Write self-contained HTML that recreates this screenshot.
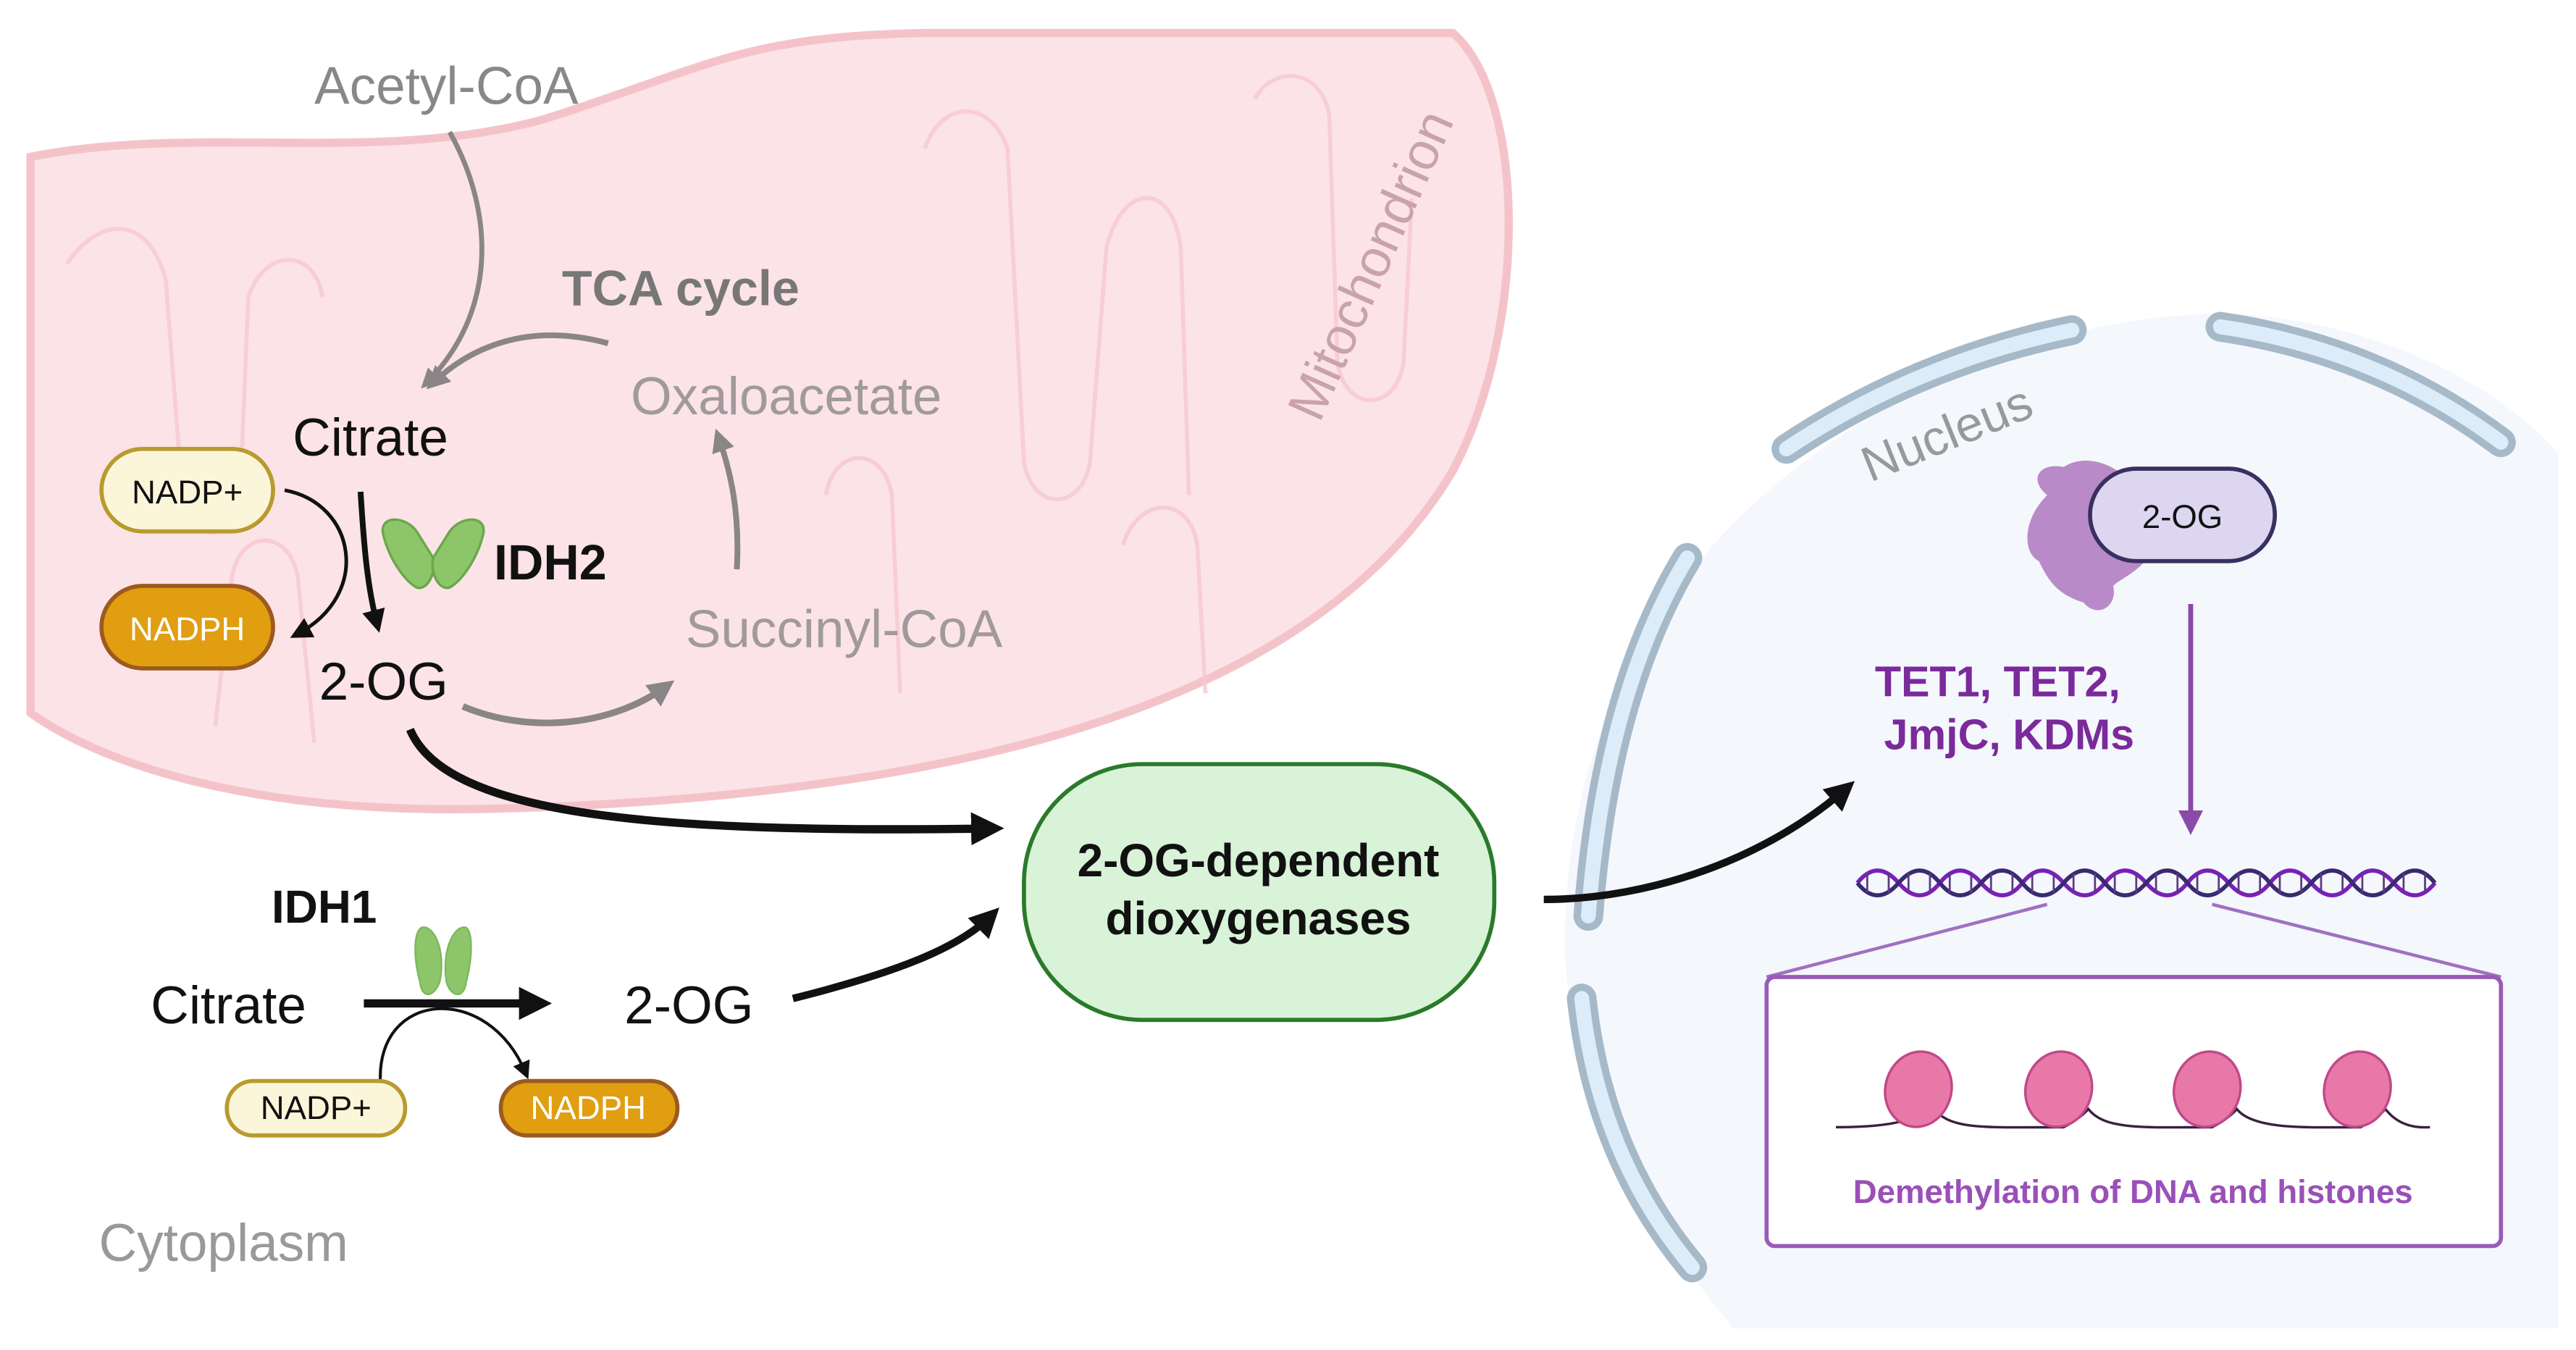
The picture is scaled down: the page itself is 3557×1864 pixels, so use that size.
<!DOCTYPE html>
<html><head><meta charset="utf-8"><style>
html,body{margin:0;padding:0;background:#fff;}
svg{display:block;}
text{font-family:"Liberation Sans",sans-serif;}
</style></head><body>
<svg width="3557" height="1864" viewBox="0 0 1560 818" xmlns="http://www.w3.org/2000/svg">
<defs>
<marker id="ab" viewBox="0 0 10 10" refX="6" refY="5" markerWidth="4" markerHeight="4" orient="auto"><path d="M0,0L10,5L0,10z" fill="#111"/></marker>
<marker id="abs" viewBox="0 0 10 10" refX="6" refY="5" markerWidth="6" markerHeight="6" orient="auto"><path d="M0,0L10,5L0,10z" fill="#111"/></marker>
<marker id="ag" viewBox="0 0 10 10" refX="6" refY="5" markerWidth="4" markerHeight="4" orient="auto"><path d="M0,0L10,5L0,10z" fill="#8a8587"/></marker>
<marker id="ap" viewBox="0 0 10 10" refX="6" refY="5" markerWidth="5" markerHeight="5" orient="auto"><path d="M0,0L10,5L0,10z" fill="#8a4aa8"/></marker>
</defs>
<!-- Mitochondrion -->
<path d="M18,95 C120,75 230,100 330,72 C430,40 450,22 560,20 L880,20 C925,60 925,200 880,285 C800,420 600,482 300,490 C150,494 60,462 18,432 Z" fill="#fce3e8" stroke="#f4c3ca" stroke-width="5"/>
<g fill="none" stroke="#f6c8cf" stroke-width="2.5" opacity="0.8">
<path d="M40,160 C60,130 90,130 100,170 L110,300 C115,330 140,330 145,300 L150,180 C160,150 190,150 195,180"/>
<path d="M130,440 L140,350 C145,320 175,320 180,350 L190,450"/>
<path d="M560,90 C570,60 600,60 610,90 L620,280 C625,310 655,310 660,280 L670,150 C680,110 710,110 715,150 L720,300"/>
<path d="M760,60 C770,40 800,40 805,70 L810,220 C815,250 845,250 850,220 L855,120"/>
<path d="M500,300 C505,270 535,270 540,300 L545,420"/>
<path d="M680,330 C690,300 720,300 725,330 L730,420"/>
</g>
<text x="840" y="165" transform="rotate(-66 840 165)" font-size="32" fill="#c9a3aa" text-anchor="middle">Mitochondrion</text>
<!-- Nucleus -->
<path d="M1350,190 C1450,195 1520,240 1550,275 L1550,805 L1050,805 C980,720 945,640 948,560 C952,400 1050,280 1200,220 C1250,200 1300,190 1350,190 Z" fill="#f4f7fc"/>
<g fill="none" stroke-linecap="round">
<g stroke="#a6b9c8" stroke-width="18">
<path d="M1082,272 Q1160,220 1255,200"/><path d="M1345,198 Q1440,212 1515,268"/>
<path d="M1022,338 Q972,420 962,555"/><path d="M958,605 Q968,700 1025,768"/>
</g>
<g stroke="#dcedf9" stroke-width="9">
<path d="M1082,272 Q1160,220 1255,200"/><path d="M1345,198 Q1440,212 1515,268"/>
<path d="M1022,338 Q972,420 962,555"/><path d="M958,605 Q968,700 1025,768"/>
</g>
</g>
<text x="1183" y="272" transform="rotate(-22 1183 272)" font-size="30" fill="#999" text-anchor="middle">Nucleus</text>
<!-- Mito texts & arrows -->
<text x="270" y="63" font-size="32" fill="#888" text-anchor="middle">Acetyl-CoA</text>
<path d="M272,80 C300,130 300,190 258,232" fill="none" stroke="#8a8587" stroke-width="3" marker-end="url(#ag)"/>
<text x="412" y="185" font-size="30" font-weight="bold" fill="#777" text-anchor="middle">TCA cycle</text>
<path d="M368,208 C320,195 285,210 262,232" fill="none" stroke="#8a8587" stroke-width="3.5" marker-end="url(#ag)"/>
<text x="476" y="251" font-size="32" fill="#a09a9c" text-anchor="middle">Oxaloacetate</text>
<text x="224" y="276" font-size="32" fill="#111" text-anchor="middle">Citrate</text>
<text x="511" y="392" font-size="32" fill="#a09a9c" text-anchor="middle">Succinyl-CoA</text>
<path d="M446,345 C448,310 442,285 435,265" fill="none" stroke="#8a8587" stroke-width="3.5" marker-end="url(#ag)"/>
<text x="232" y="424" font-size="32" fill="#111" text-anchor="middle">2-OG</text>
<path d="M280,428 C320,445 370,440 403,416" fill="none" stroke="#8a8587" stroke-width="4" marker-end="url(#ag)"/>
<rect x="61" y="272" width="104" height="50" rx="25" fill="#fbf6da" stroke="#b99a2e" stroke-width="2.5"/>
<text x="113" y="305" font-size="20" fill="#111" text-anchor="middle">NADP+</text>
<rect x="61" y="355" width="104" height="50" rx="25" fill="#e09e10" stroke="#9c5a20" stroke-width="2.5"/>
<text x="113" y="388" font-size="20" fill="#fff" text-anchor="middle">NADPH</text>
<path d="M218,298 C220,330 222,355 228,378" fill="none" stroke="#111" stroke-width="3.5" marker-end="url(#ab)"/>
<path d="M172,297 C215,305 225,360 180,384" fill="none" stroke="#111" stroke-width="2.2" marker-end="url(#abs)"/>
<g fill="#8dc56a" stroke="#6aa84a" stroke-width="1.5">
<path d="M232,325 C228,312 245,312 252,322 L262,338 C264,348 258,358 252,356 C245,352 236,340 232,325Z"/>
<path d="M292,325 C296,312 279,312 272,322 L262,338 C260,348 266,358 272,356 C279,352 288,340 292,325Z"/>
</g>
<text x="333" y="351" font-size="30" font-weight="bold" fill="#111" text-anchor="middle">IDH2</text>
<path d="M248,442 C270,495 400,505 600,502" fill="none" stroke="#111" stroke-width="5" marker-end="url(#ab)"/>
<!-- Green box -->
<rect x="620" y="463" width="285" height="155" rx="72" fill="#d8f3d8" stroke="#2a7a2a" stroke-width="2.5"/>
<text x="762" y="531" font-size="28" font-weight="bold" fill="#111" text-anchor="middle">2-OG-dependent</text>
<text x="762" y="566" font-size="28" font-weight="bold" fill="#111" text-anchor="middle">dioxygenases</text>
<!-- IDH1 -->
<text x="196" y="559" font-size="28" font-weight="bold" fill="#111" text-anchor="middle">IDH1</text>
<g fill="#8dc56a" stroke="#7ab85a" stroke-width="1">
<path d="M255,562 C262,560 270,575 266,595 C262,605 255,605 254,595 C250,580 250,565 255,562Z"/>
<path d="M282,562 C275,560 267,575 270,595 C273,605 281,605 282,595 C286,580 286,565 282,562Z"/>
</g>
<text x="138" y="620" font-size="32" fill="#111" text-anchor="middle">Citrate</text>
<path d="M220,608 L326,608" fill="none" stroke="#111" stroke-width="5" marker-end="url(#ab)"/>
<text x="417" y="620" font-size="32" fill="#111" text-anchor="middle">2-OG</text>
<path d="M480,605 C540,590 580,575 600,555" fill="none" stroke="#111" stroke-width="4.5" marker-end="url(#ab)"/>
<path d="M230,655 C228,600 295,595 318,650" fill="none" stroke="#111" stroke-width="1.8" marker-end="url(#abs)"/>
<rect x="137" y="655" width="108" height="33" rx="16" fill="#fbf6da" stroke="#b99a2e" stroke-width="2.5"/>
<text x="191" y="678" font-size="20" fill="#111" text-anchor="middle">NADP+</text>
<rect x="303" y="655" width="107" height="33" rx="16" fill="#e09e10" stroke="#9c5a20" stroke-width="2.5"/>
<text x="356" y="678" font-size="20" fill="#fff" text-anchor="middle">NADPH</text>
<text x="135" y="764" font-size="32" fill="#999" text-anchor="middle">Cytoplasm</text>
<!-- To nucleus -->
<path d="M935,545 C1000,545 1070,520 1118,478" fill="none" stroke="#111" stroke-width="4.5" marker-end="url(#ab)"/>
<path d="M1240,300 C1228,290 1236,280 1250,283 C1262,275 1280,280 1290,292 L1305,330 C1300,345 1285,350 1280,355 C1283,368 1270,375 1262,365 C1245,360 1240,350 1235,340 C1225,335 1225,315 1240,300Z" fill="#b98ac8"/>
<rect x="1266" y="284" width="112" height="56" rx="28" fill="#ddd6f0" stroke="#3a3060" stroke-width="2.5"/>
<text x="1322" y="320" font-size="20" fill="#111" text-anchor="middle">2-OG</text>
<path d="M1327,366 L1327,500" stroke="#8a4aa8" stroke-width="3" fill="none" marker-end="url(#ap)"/>
<text x="1210" y="422" font-size="26" font-weight="bold" fill="#7a2a9a" text-anchor="middle">TET1, TET2,</text>
<text x="1217" y="454" font-size="26" font-weight="bold" fill="#7a2a9a" text-anchor="middle">JmjC, KDMs</text>
<!-- DNA -->
<g fill="none" stroke-width="2.5">
<path d="M1125,535 Q1137,520 1150,535 T1175,535 T1200,535 T1225,535 T1250,535 T1275,535 T1300,535 T1325,535 T1350,535 T1375,535 T1400,535 T1425,535 T1450,535 T1475,535" stroke="#7a20b8"/>
<path d="M1125,535 Q1137,550 1150,535 T1175,535 T1200,535 T1225,535 T1250,535 T1275,535 T1300,535 T1325,535 T1350,535 T1375,535 T1400,535 T1425,535 T1450,535 T1475,535" stroke="#3a2a70"/>
</g>
<g stroke="#5a3a80" stroke-width="1.2">
<path d="M1131,529v12M1144,529v12M1156,529v12M1169,529v12M1181,529v12M1194,529v12M1206,529v12M1219,529v12M1231,529v12M1244,529v12M1256,529v12M1269,529v12M1281,529v12M1294,529v12M1306,529v12M1319,529v12M1331,529v12M1344,529v12M1356,529v12M1369,529v12M1381,529v12M1394,529v12M1406,529v12M1419,529v12M1431,529v12M1444,529v12M1456,529v12M1469,529v12"/>
</g>
<path d="M1240,548 L1070,592 M1340,548 L1515,592" stroke="#a070c0" stroke-width="2"/>
<rect x="1070" y="592" width="445" height="163" rx="5" fill="#fff" stroke="#9a5ab8" stroke-width="2.5"/>
<path d="M1112,683 C1150,683 1160,678 1170,670 C1180,685 1200,683 1250,683 C1260,678 1265,672 1265,672 C1275,685 1300,683 1340,683 C1350,678 1355,672 1355,672 C1365,685 1400,683 1430,683 C1440,678 1445,672 1445,672 C1455,685 1470,683 1472,683" fill="none" stroke="#3a2040" stroke-width="1.5"/>
<g fill="#e878a8" stroke="#c04888" stroke-width="1.5">
<ellipse cx="1162" cy="660" rx="20" ry="23" transform="rotate(15 1162 660)"/>
<ellipse cx="1247" cy="660" rx="20" ry="23" transform="rotate(15 1247 660)"/>
<ellipse cx="1337" cy="660" rx="20" ry="23" transform="rotate(15 1337 660)"/>
<ellipse cx="1428" cy="660" rx="20" ry="23" transform="rotate(15 1428 660)"/>
</g>
<text x="1292" y="729" font-size="20" font-weight="bold" fill="#9a50b8" text-anchor="middle">Demethylation of DNA and histones</text>
</svg>
</body></html>
